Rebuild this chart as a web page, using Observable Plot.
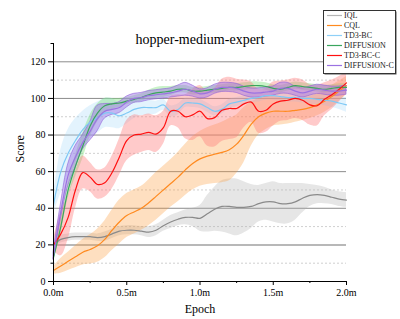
<!DOCTYPE html>
<html><head><meta charset="utf-8">
<script src="https://cdn.jsdelivr.net/npm/d3@7"></script>
<script src="https://cdn.jsdelivr.net/npm/@observablehq/plot@0.6"></script>
<style>body{margin:0;background:#fff} svg{display:block}</style>
</head><body><div id="chart"></div>
<script>
const epochs = [0,0.05,0.1,0.15,0.2,0.25,0.3,0.35,0.4,0.45,0.5,0.55,0.6,0.65,0.7,0.75,0.8,0.85,0.9,0.95,1.0,1.05,1.1,1.15,1.2,1.25,1.3,1.35,1.4,1.45,1.5,1.55,1.6,1.65,1.7,1.75,1.8,1.85,1.9,1.95,2.0];

const names = ["IQL","CQL","TD3-BC","DIFFUSION","TD3-BC-C","DIFFUSION-C"];
const lineColors = ["#8a8a8a","#ff8a1f","#7ec8f5","#3aa55d","#ff1010","#9b72e2"];
const legendColors = ["#b5b5b5","#ff8a1f","#8fd0f7","#3aa55d","#ff1010","#9b72e2"];
const bandColors = ["#b0b0b0","#fb9b3c","#a8dbf9","#7ee07e","#ff7a7a","#a27ae6"];
const bandOpacity = [0.32,0.32,0.32,0.42,0.4,0.5];

const iqlMean = [20,23,24,24.5,24.5,24.5,24,24.5,26,27.5,28,28,27.5,27,28,30.5,32.5,34,35,35,34.5,37,39.5,41,41,40.5,40.5,41,42.5,43.5,43.5,42.5,42.5,43.5,45.5,47,47.5,47,46,45,44.5];
const iqlSpread = [1,2,2,2,2,2,2,2.5,2.5,2.5,2.5,2.5,2.5,3,3,3,3.5,3.5,4,5,7,10,12,14,15,15.5,14,12,10,10,11,11,11,10,8,6,5,4.5,4,4,4];

const cqlMean = [6,8.5,11,13.5,16,17.5,19.5,23,28,32.5,36,38,40,43,46.5,50,53.5,57,61,64.5,67,68.5,69.5,70.5,72,75,80,86,90,92,93,93,93,93.5,94,95,96.5,98.5,101,104,107];
const cqlSpread = [2,4,5,6,7,8,9,10,11,12,12,12,12,12.5,13,13,13,13.5,14,14.5,15,15.5,16,16.5,17,16,15,12,10,9,8,7.5,7,6.5,6,6,6,6,6,5.5,5];

const td3Mean = [42,60,70,77,83,87,89.5,92,92,90.5,92,94,95,95,95,96.5,93,94,97.5,97.5,97,95,93,94,97,98,99,100,100.5,101.5,101.5,101,100.5,100.5,100,100,99.5,99,98.5,97.5,96.5];
const td3Spread = [5,12,13,12,10,9,8.5,8,8,7,6,5,4.5,4,3.5,3,3,3,
  2.5,2.5,2.5,2.5,2.5,2.5,2.5,2.5,2.5,2.5,2.5,2.5,2.5,2.5,2.5,2.5,2.5,
  3,3,3,3.5,3.5,4];

const difMean = [13,30,50,63,74,85,92,96,97,97.5,98.5,99.5,100.5,102,103,103.5,104,105,105,104,104,104.5,105,105.5,106,106,106.5,107,107,106.5,105.5,105,106,107,106.5,106,105.5,105,105.5,106,106];
const difSpread = [2,4,4.5,6,7,6,5,4,3,2.5,2,2,2,2.5,3,3,2.5,2,2,2,
  2,2,2,2,2,2,2,2,2,2,2,2,2,2,2,2,2,2,2,2,2];

const redMean = [20,26,35,50,59.5,57,53,54,59.5,68,77,80,80.5,81.5,80.5,84,93,93,90,91,93,89,89.5,93.5,94.5,94.5,97,98,93,93.5,97,98.5,99,100,99,96.5,96,99.5,102,105,108.5];
const redSpread = [3,12,12,10,9,8,8,8,9,10,11,11,10,10,10,9,8,9,12,14,14,15,16,17,17,16,13,11,12,12,12,11,11,11,11,11,11,9,8,7,6];

const dcMean = [14,38,58,68,76,82,89,93,94,95,98,100,100.5,101.5,102,102.5,103,104,105,104,102.5,103,105,106,106,105.5,104,103,103,103.5,104,105.5,105.5,104,103,104,105,104.5,104,104,104.5];
const dcSpread = [2,4,6,6,4,5,7,4,3,3,3,2.5,2.5,2.5,2.5,2.5,2.5,3,3.5,3,
  2.5,2.5,2.5,2.5,2.5,2.5,2.5,2.5,2.5,2.5,2.5,3,3,2.5,2.5,2.5,2.5,2.5,2.5,2.5,2.5];

const yMajor = [0,20,40,60,80,100,120];
const yMinor = [10,30,50,70,90,110,130];
const xMajor = [0,0.5,1.0,1.5,2.0];
const xMinor = [0.25,0.75,1.25,1.75];
const titleText = "hopper-medium-expert";

const means = [iqlMean,cqlMean,td3Mean,difMean,redMean,dcMean];
const spreads = [iqlSpread,cqlSpread,td3Spread,difSpread,redSpread,dcSpread];

const rows = names.flatMap((n,k) => epochs.map((e,i) => ({
  series:n, epoch:e, mean:means[k][i], lo:means[k][i]-spreads[k][i], hi:means[k][i]+spreads[k][i]
})));

const bands = names.map((n,k) => Plot.areaY(rows.filter(r => r.series===n), {
  x:"epoch", y1:"lo", y2:"hi", fill:bandColors[k], fillOpacity:bandOpacity[k], curve:"catmull-rom",
  stroke: n==="DIFFUSION-C" ? "#8a5ad8" : "none", strokeWidth:0.7, strokeOpacity:0.8
}));

const plot = Plot.plot({
  width:400, height:319,
  marginLeft:53, marginRight:54, marginTop:43, marginBottom:38,
  style:{fontFamily:"'Liberation Serif', 'Times New Roman', serif", fontSize:"10px", background:"#fff", color:"#000"},
  x:{domain:[0,2]},
  y:{domain:[0,130]},
  color:{domain:names, range:lineColors},
  marks:[
    Plot.ruleY(yMinor.filter(v => v < 130), {stroke:"#c4c4c4", strokeDasharray:"2,2", strokeWidth:0.8}),
    Plot.ruleY(yMajor.filter(v => v > 20), {stroke:"#8c8c8c", strokeWidth:1}),
    Plot.ruleY(yMajor.filter(v => v === 20), {stroke:"#b8b8b8", strokeWidth:2}),
    ...bands,
    Plot.line(rows, {x:"epoch", y:"mean", z:"series", stroke:"series", curve:"catmull-rom", strokeWidth:1.2}),
    Plot.ruleX([0], {stroke:"#000", strokeWidth:1}),
    Plot.ruleY([0], {stroke:"#000", strokeWidth:1}),
    Plot.axisY({ticks:yMajor, tickSize:5, tickPadding:3, label:null, fontSize:10}),
    Plot.axisY({ticks:yMinor, tickSize:2.5, tickFormat:() => "", label:null}),
    Plot.axisX({ticks:xMajor, tickSize:4, tickPadding:3, tickFormat:d => d.toFixed(1) + "m", label:null, fontSize:10}),
    Plot.axisX({ticks:xMinor, tickSize:2, tickFormat:() => "", label:null}),
    Plot.text([titleText], {text:d => d, frameAnchor:"top", lineAnchor:"bottom", fontSize:14}),
    Plot.text(["Score"], {text:d => d, frameAnchor:"left", dx:-33, rotate:-90, fontSize:12}),
    Plot.text(["Epoch"], {text:d => d, frameAnchor:"bottom", dy:31, fontSize:12})
  ]
});

// legend
const svg = d3.select(plot);
const lg = svg.append("g")
  .attr("font-family","'Liberation Serif', 'Times New Roman', serif")
  .attr("font-size", 8)
  .attr("text-anchor","start")
  .style("text-anchor","start");
lg.append("rect").attr("x",324.5).attr("y",11.5).attr("width",72).attr("height",63).attr("fill","#555");
lg.append("rect").attr("x",323.5).attr("y",10.5).attr("width",72).attr("height",63).attr("fill","#fff").attr("stroke","#333").attr("stroke-width",1);
names.forEach((n,i) => {
  const yy = 15.5 + i*10;
  lg.append("line").attr("x1",327).attr("x2",342).attr("y1",yy).attr("y2",yy).attr("stroke",legendColors[i]).attr("stroke-width",1.2);
  lg.append("text").attr("x",344).attr("y",yy).attr("dy","0.33em").attr("fill","#222")
    .attr("text-anchor","start").style("text-anchor","start").text(n);
});

document.getElementById("chart").appendChild(plot);
</script>
</body></html>
